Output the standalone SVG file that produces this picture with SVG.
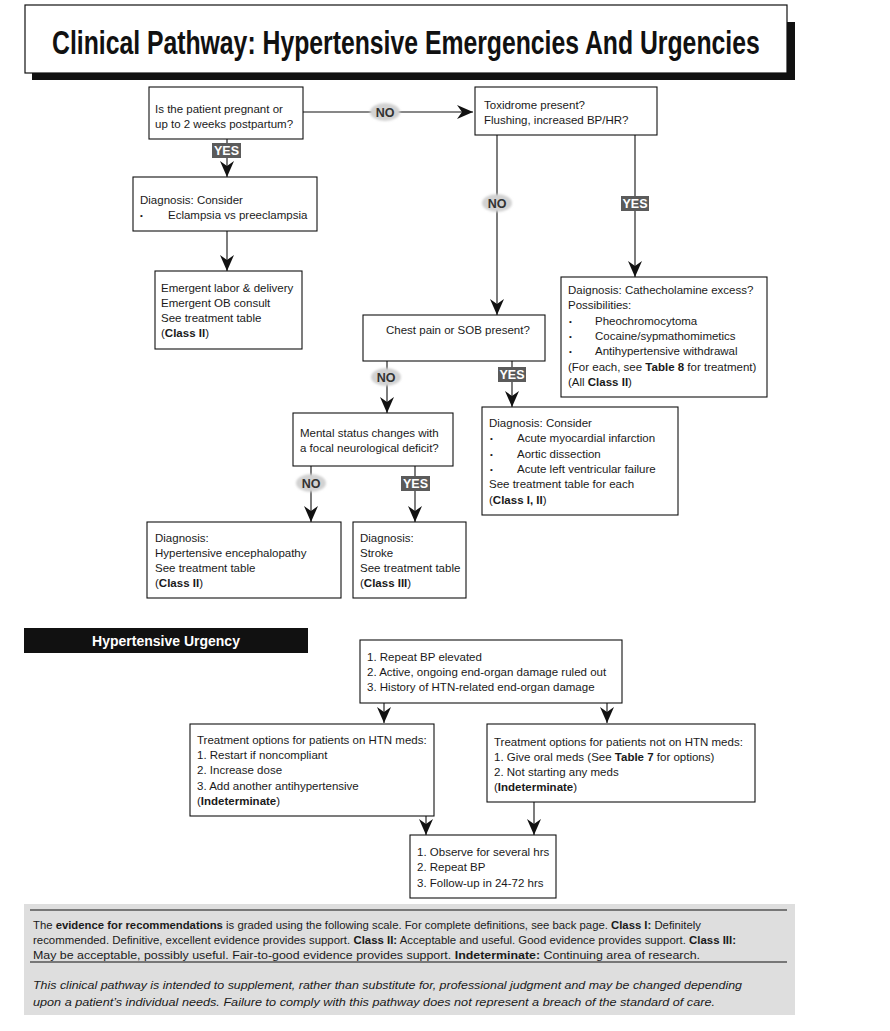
<svg xmlns="http://www.w3.org/2000/svg" width="890" height="1031" viewBox="0 0 890 1031">
<defs>
<marker id="ah" markerUnits="userSpaceOnUse" markerWidth="16" markerHeight="14" refX="16" refY="7" orient="auto" viewBox="0 0 16 14">
<path d="M0,0 L16,7 L0,14 L5,7 z" fill="#111"/>
</marker>
<filter id="soft" x="-30%" y="-40%" width="160%" height="180%"><feGaussianBlur stdDeviation="1"/></filter>
</defs>
<style>
.box{fill:#fff;stroke:#111;stroke-width:1.1}
.t{font-family:"Liberation Sans",Arial,sans-serif;font-size:11.5px;fill:#1a1a1a}
.b{font-weight:bold}
.bul{font-family:"Liberation Sans",Arial,sans-serif;font-size:8px;fill:#1a1a1a}
.con{stroke:#111;stroke-width:1.1;fill:none;marker-end:url(#ah)}
.yes{fill:#5b5b5b}
.yest{font-family:"Liberation Sans",Arial,sans-serif;font-size:12.5px;font-weight:bold;fill:#fff;text-anchor:middle}
.no{fill:#d2d2d2}
.not{font-family:"Liberation Sans",Arial,sans-serif;font-size:12.5px;font-weight:bold;fill:#333;text-anchor:middle}
.ft{font-family:"Liberation Sans",Arial,sans-serif;font-size:10.5px;fill:#1a1a1a}
</style>
<rect width="890" height="1031" fill="#fff"/>

<g id="title">
<polygon points="787,22 795,22 795,80 32,80 32,73 787,73" fill="#111"/>
<rect x="25" y="5" width="762" height="68" fill="#fff" stroke="#111" stroke-width="1.2"/>
<text transform="translate(52,54) scale(0.7,1)" x="0" y="0" font-family="'Liberation Sans',Arial,sans-serif" font-size="33" font-weight="bold" fill="#111" textLength="1011" lengthAdjust="spacingAndGlyphs">Clinical Pathway: Hypertensive Emergencies And Urgencies</text>
</g>

<g id="connectors">
<line class="con" x1="303" y1="112" x2="473" y2="112"/>
<line class="con" x1="227" y1="139" x2="227" y2="177"/>
<line class="con" x1="227" y1="231" x2="227" y2="271"/>
<line class="con" x1="497" y1="135" x2="497" y2="315"/>
<line class="con" x1="635" y1="135" x2="635" y2="277"/>
<line class="con" x1="387" y1="361" x2="387" y2="413"/>
<line class="con" x1="512" y1="361" x2="512" y2="407"/>
<line class="con" x1="311" y1="466" x2="311" y2="522"/>
<line class="con" x1="415" y1="466" x2="415" y2="522"/>
<line class="con" x1="384" y1="703" x2="384" y2="723"/>
<line class="con" x1="607" y1="703" x2="607" y2="723"/>
<line class="con" x1="426" y1="816" x2="426" y2="835"/>
<line class="con" x1="534" y1="802" x2="534" y2="835"/>
<g id="labels">
<ellipse class="no" cx="385" cy="112" rx="15" ry="9" filter="url(#soft)"/>
<text class="not" x="385" y="117">NO</text>
<rect class="yes" x="212" y="143" width="29" height="15"/>
<text class="yest" x="226.5" y="155">YES</text>
<ellipse class="no" cx="497" cy="203" rx="15" ry="9" filter="url(#soft)"/>
<text class="not" x="497" y="208">NO</text>
<rect class="yes" x="621" y="196" width="28" height="15"/>
<text class="yest" x="635" y="208">YES</text>
<ellipse class="no" cx="386" cy="377" rx="15" ry="9" filter="url(#soft)"/>
<text class="not" x="386" y="382">NO</text>
<rect class="yes" x="498" y="367" width="28" height="15"/>
<text class="yest" x="512" y="379">YES</text>
<ellipse class="no" cx="311" cy="483" rx="15" ry="9" filter="url(#soft)"/>
<text class="not" x="311" y="488">NO</text>
<rect class="yes" x="401" y="476" width="29" height="15"/>
<text class="yest" x="415.5" y="488">YES</text>
</g>
</g>

<g id="pregnant">
<rect class="box" x="149" y="87" width="154" height="52"/>
<text class="t" x="155" y="113">Is the patient pregnant or</text>
<text class="t" x="155" y="128">up to 2 weeks postpartum?</text>
</g>

<g id="eclampsia">
<rect class="box" x="133" y="177" width="184" height="54"/>
<text class="t" x="140" y="204">Diagnosis: Consider</text>
<text class="bul" x="140" y="218">•</text>
<text class="t" x="168" y="219">Eclampsia vs preeclampsia</text>
</g>

<g id="labor">
<rect class="box" x="155" y="271" width="147" height="78"/>
<text class="t" x="161" y="292">Emergent labor &amp; delivery</text>
<text class="t" x="161" y="307">Emergent OB consult</text>
<text class="t" x="161" y="322">See treatment table</text>
<text class="t" x="161" y="337">(<tspan class="b">Class II</tspan>)</text>
</g>

<g id="toxidrome">
<rect class="box" x="475" y="87" width="182" height="48"/>
<text class="t" x="484" y="109">Toxidrome present?</text>
<text class="t" x="484" y="124">Flushing, increased BP/HR?</text>
</g>

<g id="catecholamine">
<rect class="box" x="561" y="277" width="206" height="120"/>
<text class="t" x="568" y="294">Daignosis: Cathecholamine excess?</text>
<text class="t" x="568" y="309">Possibilities:</text>
<text class="bul" x="569" y="324">•</text>
<text class="t" x="595" y="325">Pheochromocytoma</text>
<text class="bul" x="569" y="339">•</text>
<text class="t" x="595" y="340">Cocaine/sypmathomimetics</text>
<text class="bul" x="569" y="354">•</text>
<text class="t" x="595" y="355">Antihypertensive withdrawal</text>
<text class="t" x="568" y="371">(For each, see <tspan class="b">Table 8</tspan> for treatment)</text>
<text class="t" x="568" y="386">(All <tspan class="b">Class II</tspan>)</text>
</g>

<g id="chestpain">
<rect class="box" x="363" y="315" width="182" height="46"/>
<text class="t" x="386" y="334">Chest pain or SOB present?</text>
</g>

<g id="mentalstatus">
<rect class="box" x="293" y="413" width="160" height="53"/>
<text class="t" x="300" y="437">Mental status changes with</text>
<text class="t" x="300" y="452">a focal neurological deficit?</text>
</g>

<g id="cardiac">
<rect class="box" x="482" y="407" width="196" height="108"/>
<text class="t" x="489" y="427">Diagnosis: Consider</text>
<text class="bul" x="490" y="441">•</text>
<text class="t" x="517" y="442">Acute myocardial infarction</text>
<text class="bul" x="490" y="457">•</text>
<text class="t" x="517" y="458">Aortic dissection</text>
<text class="bul" x="490" y="472">•</text>
<text class="t" x="517" y="473">Acute left ventricular failure</text>
<text class="t" x="489" y="488">See treatment table for each</text>
<text class="t" x="489" y="504">(<tspan class="b">Class I, II</tspan>)</text>
</g>

<g id="encephalopathy">
<rect class="box" x="147" y="522" width="194" height="76"/>
<text class="t" x="155" y="542">Diagnosis:</text>
<text class="t" x="155" y="557">Hypertensive encephalopathy</text>
<text class="t" x="155" y="572">See treatment table</text>
<text class="t" x="155" y="587">(<tspan class="b">Class II</tspan>)</text>
</g>

<g id="stroke">
<rect class="box" x="353" y="522" width="113" height="76"/>
<text class="t" x="360" y="542">Diagnosis:</text>
<text class="t" x="360" y="557">Stroke</text>
<text class="t" x="360" y="572">See treatment table</text>
<text class="t" x="360" y="587">(<tspan class="b">Class III</tspan>)</text>
</g>

<g id="urgency-header">
<rect x="24" y="628" width="284" height="25" fill="#111"/>
<text x="166" y="646" font-family="'Liberation Sans',Arial,sans-serif" font-size="14" font-weight="bold" fill="#fff" text-anchor="middle">Hypertensive Urgency</text>
</g>

<g id="criteria">
<rect class="box" x="360" y="640" width="262" height="63"/>
<text class="t" x="367" y="661">1. Repeat BP elevated</text>
<text class="t" x="367" y="676">2. Active, ongoing end-organ damage ruled out</text>
<text class="t" x="367" y="691">3. History of HTN-related end-organ damage</text>
</g>

<g id="onmeds">
<rect class="box" x="190" y="724" width="244" height="92"/>
<text class="t" x="197" y="744">Treatment options for patients on HTN meds:</text>
<text class="t" x="197" y="759">1. Restart if noncompliant</text>
<text class="t" x="197" y="774">2. Increase dose</text>
<text class="t" x="197" y="790">3. Add another antihypertensive</text>
<text class="t" x="197" y="805">(<tspan class="b">Indeterminate</tspan>)</text>
</g>

<g id="notonmeds">
<rect class="box" x="487" y="724" width="268" height="78"/>
<text class="t" x="494" y="746">Treatment options for patients not on HTN meds:</text>
<text class="t" x="494" y="761">1. Give oral meds (See <tspan class="b">Table 7</tspan> for options)</text>
<text class="t" x="494" y="776">2. Not starting any meds</text>
<text class="t" x="494" y="791">(<tspan class="b">Indeterminate</tspan>)</text>
</g>

<g id="observe">
<rect class="box" x="410" y="835" width="146" height="63"/>
<text class="t" x="417" y="856">1. Observe for several hrs</text>
<text class="t" x="417" y="871">2. Repeat BP</text>
<text class="t" x="417" y="887">3. Follow-up in 24-72 hrs</text>
</g>

<g id="footer">
<rect x="24" y="904" width="771" height="111" fill="#dedede"/>
<line x1="30" y1="910" x2="787" y2="910" stroke="#111" stroke-width="1.2"/>
<line x1="30" y1="962" x2="787" y2="962" stroke="#111" stroke-width="1.2"/>
<text class="ft" x="33" y="929" textLength="668" lengthAdjust="spacingAndGlyphs">The <tspan class="b">evidence for recommendations</tspan> is graded using the following scale. For complete definitions, see back page. <tspan class="b">Class I:</tspan> Definitely</text>
<text class="ft" x="33" y="944" textLength="703" lengthAdjust="spacingAndGlyphs">recommended. Definitive, excellent evidence provides support. <tspan class="b">Class II:</tspan> Acceptable and useful. Good evidence provides support. <tspan class="b">Class III:</tspan></text>
<text class="ft" x="33" y="959" textLength="667" lengthAdjust="spacingAndGlyphs">May be acceptable, possibly useful. Fair-to-good evidence provides support. <tspan class="b">Indeterminate:</tspan> Continuing area of research.</text>
<text class="ft" x="33" y="989" font-size="11.5" font-style="italic" textLength="709" lengthAdjust="spacingAndGlyphs">This clinical pathway is intended to supplement, rather than substitute for, professional judgment and may be changed depending</text>
<text class="ft" x="33" y="1006" font-size="11.5" font-style="italic" textLength="682" lengthAdjust="spacingAndGlyphs">upon a patient’s individual needs. Failure to comply with this pathway does not represent a breach of the standard of care.</text>
</g>
</svg>
